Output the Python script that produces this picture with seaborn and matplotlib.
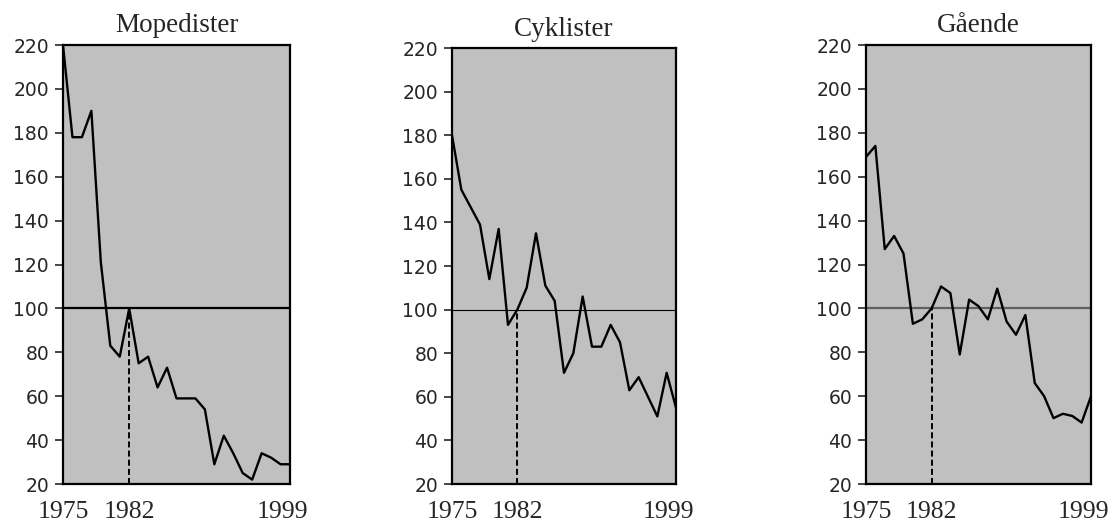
import numpy as np
import pandas as pd
import matplotlib
matplotlib.use("Agg")
import matplotlib.pyplot as plt
import matplotlib.transforms as mtransforms
import seaborn as sns

years = list(range(1975, 2000))

mopedister = [220, 178, 178, 190, 121, 83, 78, 100, 75, 78, 64, 73, 59, 59, 59, 54,
              29, 42, 34, 25, 22, 34, 32, 29, 29]
cyklister = [180, 155, 147, 139, 114, 137, 93, 100, 110, 135, 111, 104, 71, 80, 106, 83,
             83, 93, 85, 63, 69, 60, 51, 71, 55]
gaaende = [169, 174, 127, 133, 125, 93, 95, 100, 110, 107, 79, 104, 101, 95, 109, 94,
           88, 97, 66, 60, 50, 52, 51, 48, 60]

titles = ["Mopedister", "Cyklister", "Gående"]
series = [mopedister, cyklister, gaaende]
yticks = list(range(20, 221, 20))
xticks = [1975, 1982, 1999]
ref_year = 1982
ref_value = 100

sns.set_style("white")
plt.rcParams["font.family"] = ["DejaVu Sans"]

fig = plt.figure(figsize=(11.10, 5.22), dpi=100)
W, H = 1110.0, 522.0
boxes = [(63, 45, 290, 484), (452, 48, 676, 484), (866, 45, 1091, 484)]
ref_styles = [dict(color="black", lw=1.6), dict(color="black", lw=0.8), dict(color="#606060", lw=1.6)]

for box, title, vals, rs in zip(boxes, titles, series, ref_styles):
    l, t, r, b = box
    ax = fig.add_axes([l / W, 1 - b / H, (r - l) / W, (b - t) / H])
    ax.set_facecolor("#C0C0C0")
    df = pd.DataFrame({"year": years, "value": vals})
    ax.axhline(ref_value, zorder=1, **rs)
    ax.plot([ref_year, ref_year], [20, ref_value], color="black", lw=1.4,
            ls=(0, (3.1, 1.6)), zorder=2)
    sns.lineplot(data=df, x="year", y="value", ax=ax, color="black", lw=1.7, zorder=3)
    ax.set_xlim(1975, 1999)
    ax.set_ylim(20, 220)
    ax.set_yticks(yticks)
    ax.set_yticklabels([str(v) for v in yticks], fontsize=13.5, family=["DejaVu Sans"])
    ax.set_xticks(xticks)
    ax.set_xticklabels([str(v) for v in xticks], fontsize=18.5,
                       family=["Liberation Serif", "DejaVu Serif"])
    ax.tick_params(axis="y", direction="out", length=6, width=1.2, pad=4, left=True)
    ax.tick_params(axis="x", length=0, pad=12)
    lab = ax.get_xticklabels()[-1]
    lab.set_transform(lab.get_transform() + mtransforms.ScaledTranslation(-8 / 100, 0, fig.dpi_scale_trans))
    ax.set_xlabel("")
    ax.set_ylabel("")
    for s in ax.spines.values():
        s.set_visible(True)
        s.set_color("black")
        s.set_linewidth(1.6)
    ax.set_title(title, fontsize=19.5, family=["Liberation Serif", "DejaVu Serif"], pad=9)

fig.savefig("out.png", dpi=100, facecolor="white")
